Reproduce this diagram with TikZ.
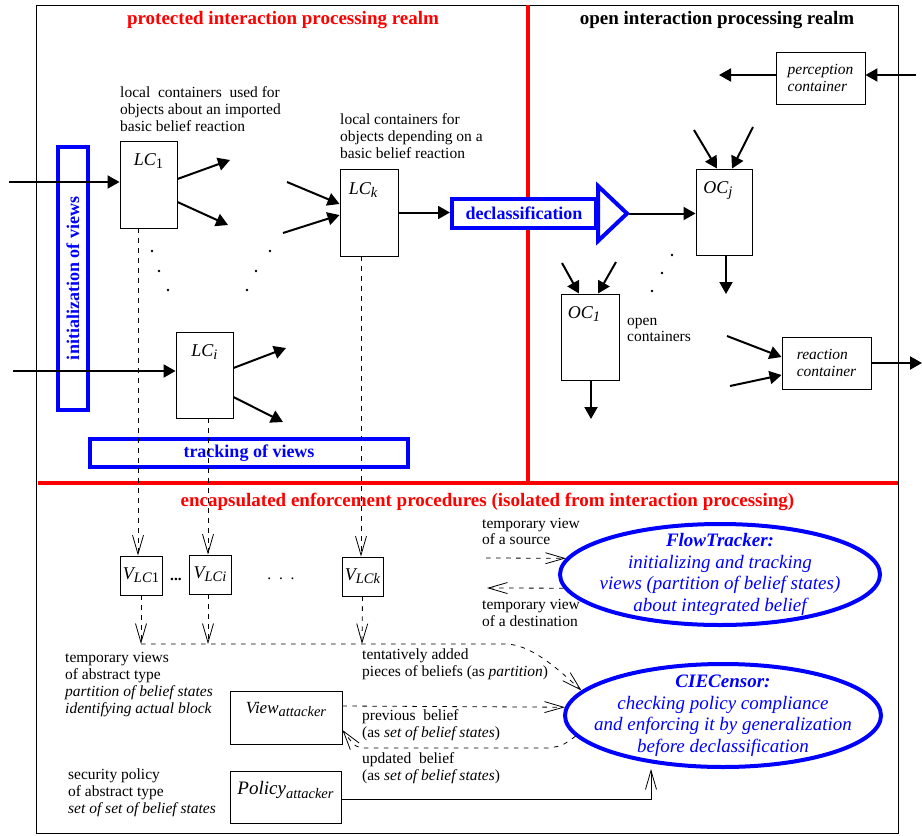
\documentclass[tikz,border=0pt]{standalone}
\usepackage{fontspec}
\setmainfont{Liberation Serif}
\usetikzlibrary{shapes.geometric, arrows.meta}

\newcommand{\boxidx}[1]{\raisebox{-0.4ex}{\fontsize{14.5}{15}\selectfont #1}}

\begin{document}
\begin{tikzpicture}[x=1pt, y=-1pt,
    container/.style={rectangle, draw, line width=0.9pt, inner sep=0pt},
    boxlabel/.style={anchor=north, inner sep=0pt, yshift=-13pt, font=\fontsize{18}{20}\selectfont\itshape},
    viewbox/.style={rectangle, draw=blue, line width=4pt, inner sep=0pt, text=blue, font=\fontsize{18}{20}\selectfont\bfseries},
    procedure/.style={ellipse, draw=blue, line width=4pt, inner xsep=-25pt, inner ysep=-10pt, text=blue, align=center, font=\fontsize{19}{21.5}\selectfont\itshape},
    note/.style={anchor=west, inner sep=0pt, align=left, font=\fontsize{15.5}{16.8}\selectfont},
    title/.style={inner sep=0pt, font=\fontsize{19}{21}\selectfont\bfseries},
    realm/.style={draw=red, line width=4pt},
    flow/.style={draw, line width=2pt, -{Triangle[length=12pt,width=13pt]}},
    viewflow/.style={draw, line width=0.8pt, dash pattern=on 4.5pt off 5.5pt, -{Straight Barb[length=19pt,width=11pt]}}
]
\useasboundingbox (0,0) rectangle (922,836);

% frame and realm borders
\draw[line width=0.9pt] (36,5) rectangle (898,833);
\draw[realm] (528,5) -- (528,483);
\draw[realm] (38,483) -- (898,483);

\node[title, text=red] (protectedtitle) at (283,20) {protected interaction processing realm};
\node[title] (opentitle) at (717,20) {open interaction processing realm};
\node[title, text=red] (enforcetitle) at (487.5,502) {encapsulated enforcement procedures (isolated from interaction processing)};

% local containers
\node[container, minimum width=57pt, minimum height=87pt, label={[boxlabel]north:LC\boxidx{\textup{1}}}] (lc1) at (148.5,184.5) {};
\node[container, minimum width=58pt, minimum height=87pt, label={[boxlabel, xshift=-6pt, yshift=-1pt]north:LC\boxidx{k}}] (lck) at (369,212.5) {};
\node[container, minimum width=57pt, minimum height=86pt, label={[boxlabel]north:LC\boxidx{i}}] (lci) at (204.5,375) {};

\node[note] (lc1note) at (120,109) {local\ \ containers\ \ used for\\objects about an imported\\basic belief reaction};
\node[note] (lcknote) at (340,136) {local containers for\\objects depending on a\\basic belief reaction};

\node[viewbox, rotate=90, minimum width=263pt, minimum height=30pt] (init) at (73,278.5) {initialization of views};
\node[viewbox, minimum width=318pt, minimum height=28pt] (tracking) at (249,453) {tracking of views};
\node[viewbox, fill=white, minimum width=144pt, minimum height=29pt] (decl) at (524,213.5) {declassification};
\draw[blue, line width=4pt] (598,186) -- (627,213.5) -- (598,241) -- cycle;
\coordinate (decltip) at (629,213.5);

% open containers
\node[container, minimum width=56pt, minimum height=86pt, label={[boxlabel, xshift=-6pt]north:OC\boxidx{j}}] (ocj) at (724,212) {};
\node[container, minimum width=58pt, minimum height=86pt, label={[boxlabel, xshift=-6pt]north:OC\boxidx{1}}] (oc1) at (590,337) {};
\node[container, minimum width=89pt, minimum height=52pt, align=left, font=\fontsize{15.5}{16.8}\selectfont\itshape] (perception) at (820.5,78) {perception\\container};
\node[container, minimum width=89pt, minimum height=52pt, align=left, font=\fontsize{15.5}{16.8}\selectfont\itshape] (reaction) at (826.5,363) {reaction\\container};
\node[note] (opennote) at (627,330) {open\\containers};

% dots
\foreach \p in {(152,251),(159,271),(168,290),(270,251),(256,271),(247,290),(672,255),(662,273),(652,291)}
    \fill \p circle (1.3pt);

% free ends
\coordinate (lc1in) at (9,182);
\coordinate (lc1outa) at (230,160);
\coordinate (lc1outb) at (228,225);
\coordinate (lckina) at (287,182);
\coordinate (lckinb) at (283,233);
\coordinate (lciin) at (13,371);
\coordinate (lciouta) at (286,348);
\coordinate (lcioutb) at (283,422);
\coordinate (ocjina) at (694,130);
\coordinate (ocjinb) at (753,127);
\coordinate (ocjout) at (726,294);
\coordinate (oc1ina) at (562,263);
\coordinate (oc1inb) at (616,262);
\coordinate (oc1out) at (591,419);
\coordinate (percin) at (916,75);
\coordinate (percout) at (719,75);
\coordinate (reacina) at (727,336);
\coordinate (reacinb) at (730,386);
\coordinate (reacout) at (922,363);

\draw[flow] (lc1in) -- ([yshift=2.5pt]lc1.west);
\draw[flow] ([yshift=5.5pt]lc1.east) -- (lc1outa);
\draw[flow] ([yshift=-17.5pt]lc1.east) -- (lc1outb);
\draw[flow] (lckina) -- ([yshift=8.5pt]lck.west);
\draw[flow] (lckinb) -- ([yshift=-2.5pt]lck.west);
\draw[flow] (lck.east) -- (lck.east -| decl.west);
\draw[flow] (lciin) -- ([yshift=4pt]lci.west);
\draw[flow] ([yshift=7pt]lci.east) -- (lciouta);
\draw[flow] ([yshift=-22pt]lci.east) -- (lcioutb);
\draw[flow] (decltip) -- (decltip -| ocj.west);
\draw[flow] (ocjina) -- ([xshift=-7pt]ocj.north);
\draw[flow] (ocjinb) -- ([xshift=8pt]ocj.north);
\draw[flow] ([xshift=2pt]ocj.south) -- (ocjout);
\draw[flow] (oc1ina) -- ([xshift=-11pt]oc1.north);
\draw[flow] (oc1inb) -- ([xshift=8pt]oc1.north);
\draw[flow] ([xshift=1pt]oc1.south) -- (oc1out);
\draw[flow] (percin) -- ([yshift=3pt]perception.east);
\draw[flow] ([yshift=3pt]perception.west) -- (percout);
\draw[flow] (reacina) -- ([yshift=6pt]reaction.west);
\draw[flow] (reacinb) -- ([yshift=-12pt]reaction.west);
\draw[flow] (reaction.east) -- (reacout);

% views
\node[container, minimum width=42pt, minimum height=39pt, font=\fontsize{18}{20}\selectfont\itshape] (vlc1) at (141,575.5) {V\boxidx{LC\textup{1}}};
\node[container, minimum width=42pt, minimum height=39pt, font=\fontsize{18}{20}\selectfont\itshape] (vlci) at (210,574.5) {V\boxidx{LCi}};
\node[container, minimum width=41pt, minimum height=39pt, font=\fontsize{18}{20}\selectfont\itshape] (vlck) at (362.5,576.5) {V\boxidx{LCk}};
\node[inner sep=0pt, font=\fontsize{15.5}{16}\selectfont\bfseries] (vdotsa) at (176,579) {...};
\node[inner sep=0pt, font=\fontsize{15.5}{16}\selectfont] (vdotsb) at (281,579) {.\ \ .\ \ .};

\coordinate (join1) at (141,644);
\coordinate (join2) at (208,644);
\coordinate (join3) at (362,644);
\coordinate (addedbend) at (505,644);

\draw[viewflow] ([xshift=-10.5pt]lc1.south) -- ([xshift=-10.5pt]lc1.south |- vlc1.north);
\draw[viewflow] ([xshift=3.5pt]lci.south) -- ([xshift=3.5pt]lci.south |- vlci.north);
\draw[viewflow] ([xshift=-8pt]lck.south) -- ([xshift=-8pt]lck.south |- vlck.north);
\draw[viewflow] (vlc1.south) -- (join1);
\draw[viewflow] ([xshift=-2pt]vlci.south) -- (join2);
\draw[viewflow] (vlck.south) -- (join3);

% enforcement procedures
\node[procedure, minimum width=320pt, minimum height=101pt] (flowtracker) at (720,574.5) {\textbf{FlowTracker:}\\initializing and tracking\\views (partition of belief states)\\about integrated belief};
\node[procedure, minimum width=316pt, minimum height=103pt] (ciecensor) at (723,715.5) {\textbf{CIECensor:}\\checking policy compliance\\and enforcing it by generalization\\before declassification};

\node[container, minimum width=112pt, minimum height=53pt, label={[boxlabel, yshift=2pt, font=\fontsize{17}{19}\selectfont\itshape]north:View\boxidx{attacker}}] (view) at (286,717.5) {};
\node[container, minimum width=111pt, minimum height=52pt, label={[boxlabel, yshift=2pt, font=\fontsize{19}{21}\selectfont\itshape]north:Policy\boxidx{attacker}}] (policy) at (285.5,797) {};

\node[note] (sourcenote) at (482,531.5) {temporary view\\of a source};
\node[note] (destnote) at (482,613) {temporary view\\of a destination};
\node[note] (addednote) at (362,664) {tentatively added\\pieces of beliefs (as \textit{partition})};
\node[note] (prevnote) at (362,725) {previous\ \ belief\\(as \textit{set of belief states})};
\node[note] (updnote) at (362,768.5) {updated\ \ belief\\(as \textit{set of belief states})};
\node[note] (viewnote) at (65,684.5) {temporary views\\of abstract type\\\textit{partition of belief states}\\\textit{identifying actual block}};
\node[note] (policynote) at (68,792.5) {security policy\\of abstract type\\\textit{set of set of belief states}};

\coordinate (sourceend) at (486,558);
\coordinate (destend) at (487,588);
\coordinate (policybend) at (651,799);

\draw[viewflow] (sourceend) -- (flowtracker.174);
\draw[viewflow] (flowtracker.185) -- (destend);
\draw[viewflow] (join1) -- (addedbend) .. controls (530,644) and (556,667) .. (ciecensor.170);
\draw[viewflow] ([yshift=11.5pt]view.east) -- (ciecensor.177);
\draw[viewflow] (ciecensor.188) .. controls (562,746) .. (548,748) -- (368,748) .. controls (356,748) .. ([yshift=-12.5pt]view.east);
\draw[line width=0.8pt, -{Straight Barb[length=19pt,width=11pt]}] ([yshift=-2pt]policy.east) -- (policybend) -- (policybend |- ciecensor.south);
\end{tikzpicture}
\end{document}
